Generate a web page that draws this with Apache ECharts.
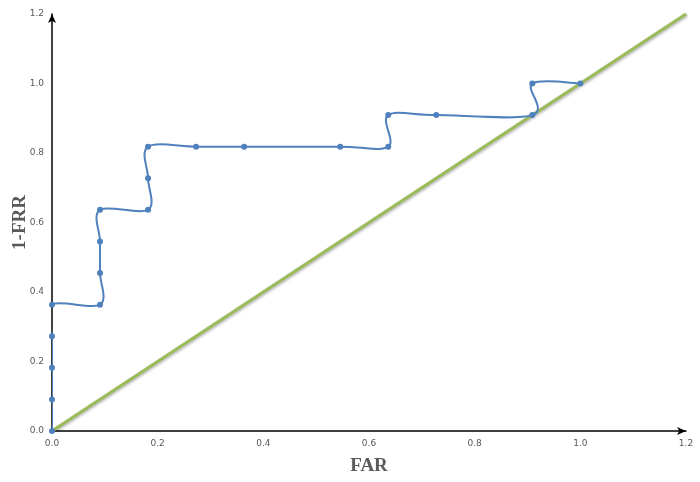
<!DOCTYPE html>
<html>
<head>
<meta charset="utf-8">
<script src="https://cdn.jsdelivr.net/npm/echarts@6/dist/echarts.min.js"></script>
<style>
  html, body { margin: 0; padding: 0; background: #fff; }
  #main { width: 700px; height: 482px; }
</style>
</head>
<body>
<div id="main"></div>
<script>
// ROC 曲线数据（按 1/11 步进）
var farValues = [0, 0, 0, 0, 0, 0.0909, 0.0909, 0.0909, 0.0909, 0.1818, 0.1818, 0.1818,
                 0.2727, 0.3636, 0.5455, 0.6364, 0.6364, 0.7273, 0.9091, 0.9091, 1.0];
var tprValues = [0, 0.0909, 0.1818, 0.2727, 0.3636, 0.3636, 0.4545, 0.5455, 0.6364, 0.6364, 0.7273, 0.8182,
                 0.8182, 0.8182, 0.8182, 0.8182, 0.9091, 0.9091, 0.9091, 1.0, 1.0];
// 对角参考线
var diagX = [0, 1.2];
var diagY = [0, 1.2];

var rocData = farValues.map(function (x, i) { return [x, tprValues[i]]; });
var diagData = diagX.map(function (x, i) { return [x, diagY[i]]; });

var myChart = echarts.init(document.getElementById('main'));

var labelStyle = {
    fontFamily: 'Verdana, DejaVu Sans, sans-serif',
    fontSize: 9,
    color: '#595959',
    formatter: function (v) { return v.toFixed(1); }
};
var nameStyle = {
    fontFamily: 'Liberation Serif, Times New Roman, serif',
    fontWeight: 'bold',
    fontSize: 19,
    color: '#595959'
};

// 类似 Excel 的平滑曲线：每段用 Catmull-Rom 转贝塞尔
function renderSmooth(params, api) {
    var i = params.dataIndexInside;
    var n = params.dataInsideLength;
    if (i >= n - 1) return;
    function pt(k) {
        k = Math.max(0, Math.min(n - 1, k));
        return api.coord([api.value(0, k), api.value(1, k)]);
    }
    var p0 = pt(i - 1), p1 = pt(i), p2 = pt(i + 1), p3 = pt(i + 2);
    var t = 1 / 6;
    return {
        type: 'bezierCurve',
        shape: {
            x1: p1[0], y1: p1[1],
            x2: p2[0], y2: p2[1],
            cpx1: p1[0] + (p2[0] - p0[0]) * t,
            cpy1: p1[1] + (p2[1] - p0[1]) * t,
            cpx2: p2[0] - (p3[0] - p1[0]) * t,
            cpy2: p2[1] - (p3[1] - p1[1]) * t
        },
        style: { stroke: '#4F81BD', lineWidth: 2, fill: null }
    };
}

var option = {
    animation: false,
    grid: {
        left: 52,
        right: 14,
        top: 14,
        bottom: 51,
        containLabel: false,
        outerBoundsMode: 'none'
    },
    xAxis: {
        type: 'value',
        min: 0,
        max: 1.2,
        interval: 0.2,
        name: 'FAR',
        nameLocation: 'middle',
        nameGap: 26,
        nameMoveOverlap: false,
        nameTextStyle: nameStyle,
        axisLine: {
            show: true,
            symbol: ['none', 'arrow'],
            symbolSize: [6, 9],
            lineStyle: { color: '#000', width: 1.5 }
        },
        axisTick: { show: false },
        splitLine: { show: false },
        axisLabel: Object.assign({ margin: 8 }, labelStyle)
    },
    yAxis: {
        type: 'value',
        min: 0,
        max: 1.2,
        interval: 0.2,
        name: '1-FRR',
        nameLocation: 'middle',
        nameGap: 22,
        nameMoveOverlap: false,
        nameRotate: 90,
        nameTextStyle: nameStyle,
        axisLine: {
            show: true,
            symbol: ['none', 'arrow'],
            symbolSize: [6, 9],
            lineStyle: { color: '#000', width: 1.5 }
        },
        axisTick: { show: false },
        splitLine: { show: false },
        axisLabel: Object.assign({ margin: 8 }, labelStyle)
    },
    series: [
        {
            type: 'line',
            data: diagData,
            showSymbol: false,
            lineStyle: {
                color: '#9BBB59',
                width: 3,
                shadowColor: 'rgba(0,0,0,0.35)',
                shadowBlur: 3,
                shadowOffsetX: 1,
                shadowOffsetY: 1
            },
            z: 2
        },
        {
            type: 'custom',
            data: rocData,
            renderItem: renderSmooth,
            clip: true,
            z: 3
        },
        {
            type: 'line',
            data: rocData,
            symbol: 'circle',
            symbolSize: 6,
            itemStyle: { color: '#4F81BD' },
            lineStyle: { opacity: 0 },
            z: 4
        }
    ]
};

myChart.setOption(option);
</script>
</body>
</html>
